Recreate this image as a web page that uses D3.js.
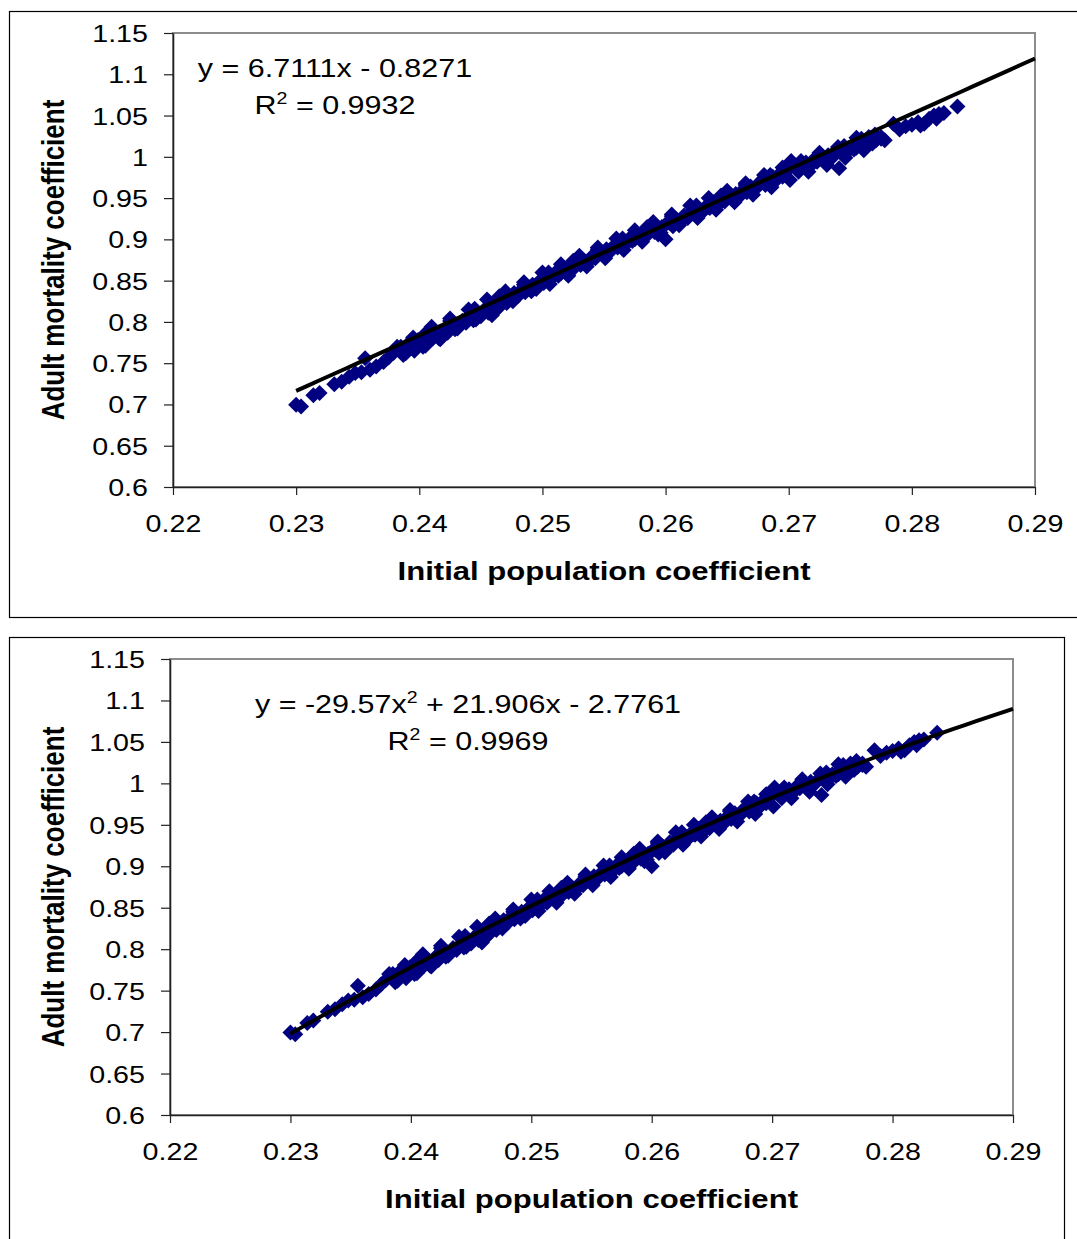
<!DOCTYPE html>
<html>
<head>
<meta charset="utf-8">
<script src="https://cdn.jsdelivr.net/npm/d3@7"></script>
<style>
  body { margin: 0; background: #fff; }
  svg { display: block; }
  text { font-family: "Liberation Sans", Arial, sans-serif; fill: #000; }
</style>
</head>
<body>
<div id="chart"></div>
<script>
// ---------------- data ----------------
var popCoef = [
  0.2300, 0.2304, 0.2314, 0.2319, 0.2331, 0.2337, 0.2343, 0.2348, 0.2353, 0.2356,
  0.2360, 0.2365, 0.2371, 0.2375, 0.2379, 0.2384, 0.2387, 0.2390, 0.2393, 0.2396,
  0.2399, 0.2402, 0.2405, 0.2408, 0.2411, 0.2414, 0.2417, 0.2420, 0.2423, 0.2426,
  0.2429, 0.2432, 0.2435, 0.2438, 0.2441, 0.2444, 0.2447, 0.2450, 0.2453, 0.2456,
  0.2459, 0.2462, 0.2465, 0.2468, 0.2471, 0.2474, 0.2477, 0.2480, 0.2483, 0.2486,
  0.2489, 0.2492, 0.2495, 0.2498, 0.2501, 0.2504, 0.2507, 0.2510, 0.2513, 0.2516,
  0.2519, 0.2522, 0.2525, 0.2528, 0.2531, 0.2534, 0.2537, 0.2540, 0.2543, 0.2546,
  0.2549, 0.2552, 0.2555, 0.2558, 0.2561, 0.2564, 0.2567, 0.2570, 0.2573, 0.2576,
  0.2579, 0.2582, 0.2585, 0.2588, 0.2591, 0.2594, 0.2597, 0.2600, 0.2600, 0.2603,
  0.2606, 0.2609, 0.2612, 0.2615, 0.2618, 0.2621, 0.2624, 0.2627, 0.2630, 0.2633,
  0.2636, 0.2639, 0.2642, 0.2645, 0.2648, 0.2651, 0.2654, 0.2657, 0.2660, 0.2663,
  0.2666, 0.2669, 0.2672, 0.2675, 0.2678, 0.2681, 0.2684, 0.2687, 0.2690, 0.2693,
  0.2696, 0.2699, 0.2702, 0.2705, 0.2708, 0.2711, 0.2714, 0.2717, 0.2720, 0.2723,
  0.2726, 0.2729, 0.2732, 0.2735, 0.2738, 0.2741, 0.2744, 0.2747, 0.2750, 0.2753,
  0.2756, 0.2759, 0.2762, 0.2765, 0.2768, 0.2771, 0.2775, 0.2785, 0.2795, 0.2800,
  0.2805, 0.2810, 0.2814, 0.2818, 0.2822, 0.2837,
  0.2382, 0.2389, 0.2395, 0.2403, 0.2410, 0.2416, 0.2425, 0.2431, 0.2440, 0.2446,
  0.2455, 0.2461, 0.2470, 0.2476, 0.2485, 0.2491, 0.2500, 0.2506, 0.2515, 0.2521,
  0.2530, 0.2536, 0.2545, 0.2551, 0.2560, 0.2566, 0.2575, 0.2581, 0.2590, 0.2596,
  0.2605, 0.2611, 0.2620, 0.2626, 0.2635, 0.2641, 0.2650, 0.2656, 0.2665, 0.2671,
  0.2680, 0.2686, 0.2695, 0.2701, 0.2710, 0.2716, 0.2725, 0.2731, 0.2740, 0.2746,
  0.2755, 0.2761, 0.2770, 0.2778, 0.2790, 0.2807, 0.2820, 0.2826,
  0.2385, 0.2395, 0.2405, 0.2415, 0.2425, 0.2435, 0.2445, 0.2455, 0.2465, 0.2475,
  0.2485, 0.2495, 0.2505, 0.2515, 0.2525, 0.2535, 0.2545, 0.2555, 0.2565, 0.2575,
  0.2585, 0.2595, 0.2605, 0.2615, 0.2625, 0.2635, 0.2645, 0.2655, 0.2665, 0.2675,
  0.2685, 0.2695, 0.2705, 0.2715, 0.2725, 0.2735, 0.2745, 0.2755, 0.2765, 0.2775
];
var mortCoef = [
  0.6995, 0.6975, 0.7110, 0.7139, 0.7245, 0.7275, 0.7335, 0.7380, 0.7390, 0.7560,
  0.7420, 0.7460, 0.7514, 0.7570, 0.7624, 0.7660, 0.7600, 0.7720, 0.7700, 0.7650,
  0.7780, 0.7760, 0.7710, 0.7820, 0.7800, 0.7850, 0.7790, 0.7900, 0.7870, 0.7950,
  0.7910, 0.7960, 0.8010, 0.7990, 0.8050, 0.8020, 0.8100, 0.8070, 0.8150, 0.8110,
  0.8080, 0.8200, 0.8180, 0.8270, 0.8230, 0.8300, 0.8350, 0.8310, 0.8390, 0.8360,
  0.8420, 0.8450, 0.8400, 0.8500, 0.8470, 0.8550, 0.8520, 0.8590, 0.8560, 0.8620,
  0.8600, 0.8670, 0.8640, 0.8710, 0.8690, 0.8740, 0.8720, 0.8790, 0.8770, 0.8840,
  0.8810, 0.8880, 0.8850, 0.8920, 0.8900, 0.8960, 0.8930, 0.9000, 0.8980, 0.9040,
  0.9020, 0.9080, 0.9050, 0.9120, 0.9090, 0.9060, 0.9150, 0.9000, 0.9180, 0.9200,
  0.9160, 0.9240, 0.9220, 0.9290, 0.9260, 0.9330, 0.9300, 0.9370, 0.9330, 0.9400,
  0.9380, 0.9450, 0.9410, 0.9480, 0.9460, 0.9510, 0.9490, 0.9550, 0.9520, 0.9600,
  0.9570, 0.9640, 0.9610, 0.9670, 0.9700, 0.9660, 0.9740, 0.9760, 0.9720, 0.9800,
  0.9780, 0.9840, 0.9950, 0.9870, 0.9820, 0.9900, 0.9930, 0.9880, 0.9960, 0.9940,
  1.0000, 0.9970, 1.0020, 0.9990, 1.0040, 0.9860, 1.0070, 1.0050, 1.0110, 1.0090,
  1.0150, 1.0220, 1.0130, 1.0180, 1.0160, 1.0200, 1.0240, 1.0400, 1.0370, 1.0390,
  1.0420, 1.0400, 1.0460, 1.0500, 1.0520, 1.0610,
  0.7700, 0.7620, 0.7810, 0.7700, 0.7940, 0.7800, 0.8040, 0.7920, 0.8150, 0.8030,
  0.8270, 0.8130, 0.8370, 0.8250, 0.8480, 0.8370, 0.8600, 0.8460, 0.8700, 0.8560,
  0.8800, 0.8670, 0.8900, 0.8770, 0.9010, 0.8870, 0.9110, 0.8970, 0.9210, 0.9080,
  0.9300, 0.9170, 0.9410, 0.9260, 0.9500, 0.9360, 0.9590, 0.9450, 0.9680, 0.9540,
  0.9780, 0.9630, 0.9870, 0.9720, 0.9950, 0.9820, 1.0050, 0.9900, 1.0120, 0.9990,
  1.0230, 1.0080, 1.0270, 1.0200, 1.0330, 1.0380, 1.0460, 1.0530,
  0.7700, 0.7710, 0.7860, 0.7860, 0.8010, 0.8010, 0.8160, 0.8160, 0.8310, 0.8300,
  0.8450, 0.8450, 0.8600, 0.8590, 0.8740, 0.8730, 0.8880, 0.8870, 0.9010, 0.9000,
  0.9150, 0.9130, 0.9280, 0.9260, 0.9410, 0.9390, 0.9530, 0.9510, 0.9660, 0.9640,
  0.9780, 0.9760, 0.9900, 0.9880, 1.0010, 0.9990, 1.0130, 1.0110, 1.0240, 1.0220
];

var xTicks = [0.22, 0.23, 0.24, 0.25, 0.26, 0.27, 0.28, 0.29];
var yTicks = [0.6, 0.65, 0.7, 0.75, 0.8, 0.85, 0.9, 0.95, 1, 1.05, 1.1, 1.15];

// trendline coefficients (highest power first) and R^2, as printed on the charts
var linearCoef = [6.7111, -0.8271];
var quadCoef = [-29.57, 21.906, -2.7761];
var rSquared = [0.9932, 0.9969];
var fitRange = [0.23, 0.29];

var xTitle = "Initial population coefficient";
var yTitle = "Adult mortality coefficient";

// ---------------- layout ----------------
var W = 1077, H = 1239;
var SX = 1.22;          // text in the source is stretched sideways
var navy = "#000080";

var panels = [
  { frame: { x0: 9.5, y0: 11.5, x1: 1090, y1: 617.5 },
    plot: { left: 173, top: 33, right: 1035, bottom: 487 },
    coef: linearCoef, r2: rSquared[0], eqX: 335, eqY: 77 },
  { frame: { x0: 9.5, y0: 637.5, x1: 1064.5, y1: 1260 },
    plot: { left: 170, top: 659, right: 1013, bottom: 1115 },
    coef: quadCoef, r2: rSquared[1], eqX: 468, eqY: 713 }
];

var svg = d3.select("#chart").append("svg")
  .attr("width", W)
  .attr("height", H);

function stretch(x, y, rot) {
  return "translate(" + x + "," + y + ") scale(" + SX + ",1)" + (rot ? " rotate(" + rot + ")" : "");
}

function poly(coef, x) {
  return coef.reduce(function(acc, c) { return acc * x + c; }, 0);
}

// pieces of "y = ax^2 + bx - c" : [text, isSuperscript]
function eqParts(coef) {
  var n = coef.length, parts = [["y = ", false]];
  coef.forEach(function(c, i) {
    var pow = n - 1 - i;
    var sign = i === 0 ? (c < 0 ? "-" : "") : (c < 0 ? " - " : " + ");
    parts.push([sign + Math.abs(c) + (pow > 0 ? "x" : ""), false]);
    if (pow > 1) parts.push([String(pow), true]);
  });
  return parts;
}

function supText(sel, parts) {
  var prevSup = false;
  parts.forEach(function(pt) {
    var t = sel.append("tspan").text(pt[0]);
    if (pt[1]) t.attr("font-size", 16).attr("dy", -10);
    else if (prevSup) t.attr("dy", 10);
    prevSup = pt[1];
  });
}

var diamond = "M0,-8L8,0L0,8L-8,0Z";

panels.forEach(function(p) {
  var g = svg.append("g");
  var pl = p.plot;

  // outer chart frame
  g.append("rect")
    .attr("x", p.frame.x0).attr("y", p.frame.y0)
    .attr("width", p.frame.x1 - p.frame.x0)
    .attr("height", p.frame.y1 - p.frame.y0)
    .attr("fill", "none").attr("stroke", "#000").attr("stroke-width", 1.2);

  var x = d3.scaleLinear().domain([0.22, 0.29]).range([pl.left, pl.right]);
  var y = d3.scaleLinear().domain([0.6, 1.15]).range([pl.bottom, pl.top]);

  // plot area border
  g.append("rect")
    .attr("x", pl.left).attr("y", pl.top)
    .attr("width", pl.right - pl.left).attr("height", pl.bottom - pl.top)
    .attr("fill", "none").attr("stroke", "#8c8c8c").attr("stroke-width", 2);

  // scatter
  g.append("g").selectAll("path")
    .data(d3.range(popCoef.length))
    .join("path")
    .attr("d", diamond)
    .attr("transform", function(i) { return "translate(" + x(popCoef[i]) + "," + y(mortCoef[i]) + ")"; })
    .attr("fill", navy);

  // trendline
  var xs = d3.range(0, 61).map(function(k) { return fitRange[0] + (fitRange[1] - fitRange[0]) * k / 60; });
  g.append("path")
    .datum(xs)
    .attr("fill", "none")
    .attr("stroke", "#000")
    .attr("stroke-width", 4)
    .attr("d", d3.line().x(function(d) { return x(d); }).y(function(d) { return y(poly(p.coef, d)); }));

  // axes
  var yAxis = g.append("g")
    .attr("transform", "translate(" + pl.left + ",0)")
    .call(d3.axisLeft(y).tickValues(yTicks).tickSize(9).tickSizeOuter(0).tickFormat(function(d) { return String(d); }));
  var xAxis = g.append("g")
    .attr("transform", "translate(0," + pl.bottom + ")")
    .call(d3.axisBottom(x).tickValues(xTicks).tickSize(8).tickSizeOuter(0).tickFormat(function(d) { return String(d); }));

  [yAxis, xAxis].forEach(function(a) {
    a.attr("font-size", 23.5).attr("font-family", null);
    a.select(".domain").attr("stroke", "#222").attr("stroke-width", 1.6);
    a.selectAll(".tick line").attr("stroke", "#222").attr("stroke-width", 1.2);
  });
  yAxis.selectAll(".tick text")
    .attr("x", null).attr("dy", "0.36em")
    .attr("text-anchor", "end")
    .attr("transform", stretch(-25, 0));
  xAxis.selectAll(".tick text")
    .attr("y", null).attr("dy", null)
    .attr("text-anchor", "middle")
    .attr("transform", stretch(0, 45));

  // axis titles
  g.append("text")
    .attr("transform", stretch((pl.left + pl.right) / 2, pl.bottom + 93))
    .attr("text-anchor", "middle")
    .attr("font-size", 25.5).attr("font-weight", "bold")
    .text(xTitle);
  g.append("text")
    .attr("transform", stretch(64, (pl.top + pl.bottom) / 2, -90))
    .attr("text-anchor", "middle")
    .attr("font-size", 26).attr("font-weight", "bold")
    .text(yTitle);

  // trendline label
  var eq = g.append("text")
    .attr("transform", stretch(p.eqX, p.eqY))
    .attr("text-anchor", "middle")
    .attr("font-size", 25);
  supText(eq, eqParts(p.coef));

  var r = g.append("text")
    .attr("transform", stretch(p.eqX, p.eqY + 37))
    .attr("text-anchor", "middle")
    .attr("font-size", 25);
  supText(r, [["R", false], ["2", true], [" = " + p.r2, false]]);
});
</script>
</body>
</html>
